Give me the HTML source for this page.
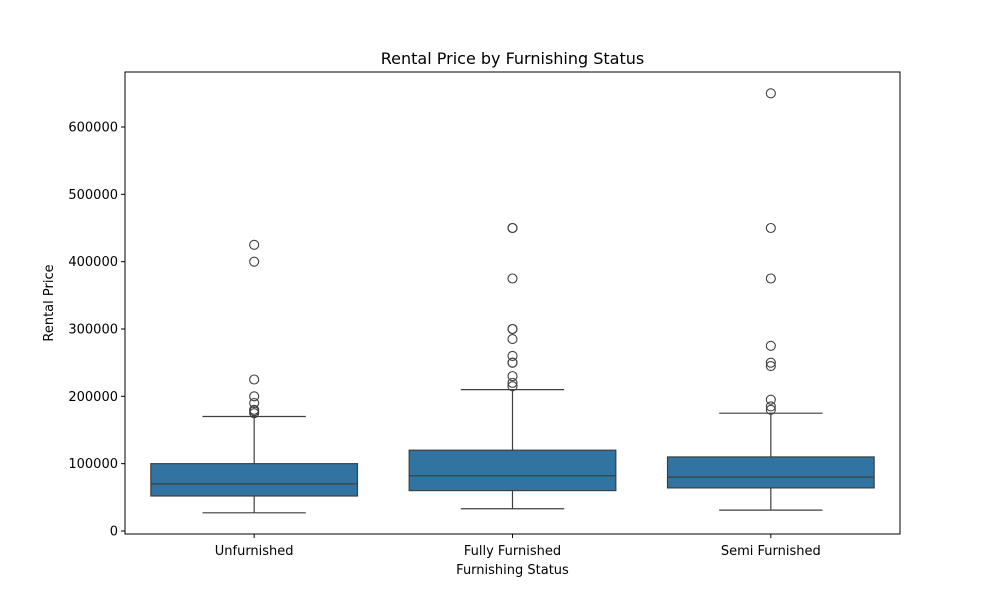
<!DOCTYPE html>
<html><head><meta charset="utf-8"><style>
body{margin:0;background:#fff;font-family:"Liberation Sans","DejaVu Sans",sans-serif;}
svg text{font-family:"DejaVu Sans","Liberation Sans",sans-serif;}
</style></head><body>
<svg id="chart" width="1000" height="600" xmlns="http://www.w3.org/2000/svg">
<rect width="1000" height="600" fill="#fff"/>
<text x="512.5" y="64" text-anchor="middle" font-size="16" fill="#000">Rental Price by Furnishing Status</text>
<g id="plot"></g>
<rect x="125" y="72" width="775" height="462" fill="none" stroke="#000" stroke-width="1"/>
<text x="512.5" y="574" text-anchor="middle" font-size="13">Furnishing Status</text>
<text transform="translate(53,303) rotate(-90)" text-anchor="middle" font-size="13">Rental Price</text>
</svg>
<script>
const categories = ["Unfurnished","Fully Furnished","Semi Furnished"];
const whiskerLow = [27000,33000,31000];
const q1 = [52000,60000,64000];
const medians = [70000,82000,80000];
const q3 = [100000,120000,110000];
const whiskerHigh = [170000,210000,175000];
const outliers = [
 [175000,178000,180000,190000,200000,225000,400000,425000],
 [215000,220000,230000,250000,250000,260000,285000,300000,300000,375000,450000,450000],
 [180000,185000,195000,245000,250000,275000,375000,450000,650000]
];
const yTicks = [0,100000,200000,300000,400000,500000,600000];

const NS="http://www.w3.org/2000/svg";
const left=125,right=900;
const band=(right-left)/categories.length;
const xc=i=>left+band*(i+0.5);
const y=v=>531-v*(404/600000);
const g=document.getElementById('plot');
function mk(tag,attrs,parent){const e=document.createElementNS(NS,tag);for(const k in attrs)e.setAttribute(k,attrs[k]);(parent||g).appendChild(e);return e;}

yTicks.forEach(t=>{
 const tk=mk('line',{x1:left-4,x2:left,y1:y(t),y2:y(t),stroke:'#000'});
 
 
 const tx=mk('text',{x:left-7,y:y(t)+4.5,'text-anchor':'end','font-size':13});
 tx.textContent=t;
 
 
});
const bw=band*0.8, cap=bw/2;
categories.forEach((c,i)=>{
 const cx=xc(i);
 const grp=mk('g',{});
 
 
 mk('line',{x1:cx,x2:cx,y1:y(whiskerLow[i]),y2:y(q1[i]),stroke:'#3f3f3f','stroke-width':1.2},grp);
 mk('line',{x1:cx,x2:cx,y1:y(q3[i]),y2:y(whiskerHigh[i]),stroke:'#3f3f3f','stroke-width':1.2},grp);
 mk('line',{x1:cx-cap/2,x2:cx+cap/2,y1:y(whiskerLow[i]),y2:y(whiskerLow[i]),stroke:'#3f3f3f','stroke-width':1.2},grp);
 mk('line',{x1:cx-cap/2,x2:cx+cap/2,y1:y(whiskerHigh[i]),y2:y(whiskerHigh[i]),stroke:'#3f3f3f','stroke-width':1.2},grp);
 mk('rect',{x:cx-bw/2,y:y(q3[i]),width:bw,height:y(q1[i])-y(q3[i]),fill:'#3274a1',stroke:'#3f3f3f','stroke-width':1.2},grp);
 mk('line',{x1:cx-bw/2,x2:cx+bw/2,y1:y(medians[i]),y2:y(medians[i]),stroke:'#3f3f3f','stroke-width':1.2},grp);
 outliers[i].forEach(v=>{
  const o=mk('circle',{cx:cx,cy:y(v),r:4.5,fill:'none',stroke:'#3f3f3f','stroke-width':1.1},grp);
  
  
 });
 const tk=mk('line',{x1:cx,x2:cx,y1:534,y2:538,stroke:'#000'});
 
 
 const tx=mk('text',{x:cx,y:555,'text-anchor':'middle','font-size':13});
 tx.textContent=c;
 
 
});
</script>
</body></html>
